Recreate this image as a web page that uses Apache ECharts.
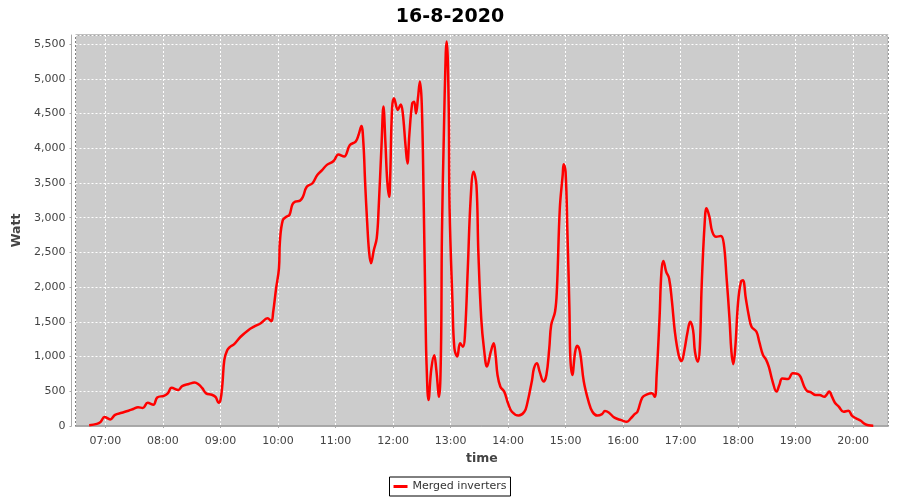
<!DOCTYPE html>
<html>
<head>
<meta charset="utf-8">
<script src="https://cdn.jsdelivr.net/npm/echarts@6/dist/echarts.min.js"></script>
<style>html,body{margin:0;padding:0;background:#fff;}#c{width:900px;height:500px;}</style>
</head>
<body>
<div id="c"></div>
<script>
const chartTitle = '16-8-2020';
const seriesName = 'Merged inverters';
const times = ['06:43','06:51','06:55','06:59','07:05','07:10','07:17','07:24','07:29','07:34','07:39','07:44','07:50','07:54','08:01','08:05','08:09','08:16','08:20','08:27','08:33','08:37','08:41','08:45','08:51','08:55','08:58','09:00','09:02','09:04','09:07','09:10','09:14','09:21','09:29','09:35','09:42','09:49','09:53','09:55','09:58','10:01','10:02','10:05','10:09','10:12','10:15','10:18','10:23','10:26','10:30','10:36','10:41','10:46','10:51','10:58','11:03','11:09','11:15','11:21','11:24','11:27','11:29','11:31','11:33','11:35','11:37','11:40','11:43','11:45','11:48','11:50','11:52','11:54','11:56','11:57','11:59','12:01','12:05','12:08','12:10','12:13','12:15','12:17','12:20','12:22','12:24','12:26','12:28','12:30','12:32','12:34','12:35','12:37','12:40','12:43','12:45','12:48','12:50','12:51','12:53','12:55','12:56','12:58','12:59','13:02','13:04','13:07','13:10','13:13','13:15','13:18','13:21','13:24','13:27','13:29','13:32','13:35','13:38','13:42','13:45','13:47','13:49','13:52','13:56','14:00','14:04','14:11','14:17','14:20','14:25','14:27','14:30','14:33','14:37','14:40','14:43','14:45','14:49','14:51','14:54','14:57','14:58','15:00','15:02','15:04','15:05','15:07','15:10','15:12','15:15','15:19','15:24','15:28','15:33','15:38','15:41','15:45','15:51','15:58','16:04','16:08','16:12','16:15','16:20','16:25','16:30','16:33','16:35','16:38','16:40','16:42','16:45','16:48','16:51','16:54','16:58','17:01','17:04','17:07','17:10','17:13','17:15','17:18','17:20','17:22','17:25','17:27','17:30','17:33','17:37','17:42','17:45','17:48','17:51','17:53','17:55','17:57','18:00','18:03','18:05','18:08','18:11','18:14','18:19','18:22','18:26','18:29','18:32','18:36','18:40','18:43','18:46','18:52','18:57','19:02','19:05','19:09','19:12','19:16','19:21','19:25','19:30','19:32','19:35','19:38','19:41','19:45','19:50','19:55','19:59','20:03','20:08','20:12','20:16','20:21'];
const watts = [10,30,60,130,95,160,190,220,245,270,260,335,305,410,435,470,550,520,575,605,625,600,545,470,450,415,335,375,600,950,1090,1140,1175,1285,1380,1430,1480,1550,1510,1645,1980,2270,2655,2965,3015,3040,3190,3230,3245,3300,3445,3495,3615,3685,3760,3815,3910,3880,4045,4095,4190,4320,4095,3470,2940,2510,2345,2535,2705,3135,4045,4600,4095,3520,3300,3565,4575,4720,4550,4630,4525,4045,3780,4190,4645,4670,4500,4720,4960,4625,3230,1500,880,375,830,1020,830,420,1070,2750,4190,5370,5535,4670,3135,1790,1120,1000,1190,1140,1310,2270,3280,3660,3470,2510,1550,1095,855,1070,1190,1020,735,565,495,325,205,150,205,325,660,830,905,780,640,735,1120,1455,1645,1980,3135,3615,3770,3660,2750,1695,975,735,1070,1155,1070,640,350,205,150,170,215,195,120,85,60,110,170,205,410,455,470,420,735,1550,2220,2375,2220,2125,1790,1360,1020,935,1095,1335,1500,1380,1070,925,1120,2030,2895,3135,3015,2800,2725,2735,2630,2125,1550,1070,890,1120,1790,2080,2100,1840,1600,1430,1360,1215,1020,960,855,640,495,590,685,675,760,750,710,565,505,485,445,445,420,445,495,420,335,280,205,220,145,110,75,30,10,5];
const yTickStep = 500;
const yMax = 5630;

function toTs(s, sec) {
  const p = s.split(':');
  return new Date(2020, 7, 16, +p[0], +p[1], sec || 0).getTime();
}
const data = times.map((t, i) => [toTs(t), watts[i]]);
const xMin = toTs('06:28', 45);
const xMax = toTs('20:36', 40);
const FONT = 'DejaVu Sans';
const pad = n => (n < 10 ? '0' : '') + n;

const chart = echarts.init(document.getElementById('c'), null, {renderer: 'canvas'});
chart.setOption({
  animation: false,
  backgroundColor: '#ffffff',
  title: {
    text: chartTitle, left: 'center', top: 3,
    textStyle: {fontFamily: FONT, fontWeight: 'bold', fontSize: 19, color: '#000'}
  },
  legend: {
    data: [{name: seriesName, icon: 'rect'}],
    left: 'center', top: 477,
    itemWidth: 14, itemHeight: 3, padding: [4, 4, 4, 4],
    borderColor: '#000', borderWidth: 1,
    textStyle: {fontFamily: FONT, fontSize: 11, color: '#333'}
  },
  grid: {
    left: 75.5, right: 11.7, top: 35, bottom: 74,
    show: true, backgroundColor: '#cccccc', borderColor: '#808080', borderWidth: 1
  },
  xAxis: {
    type: 'time', min: xMin, max: xMax,
    minInterval: 3600000, maxInterval: 3600000,
    offset: 4,
    name: 'time', nameLocation: 'middle', nameGap: 22,
    nameTextStyle: {fontFamily: FONT, fontWeight: 'bold', fontSize: 12.5, color: '#444'},
    axisLine: {show: true, lineStyle: {color: '#aaaaaa', width: 1}},
    axisTick: {show: true, length: 2, lineStyle: {color: '#aaaaaa'}},
    axisLabel: {
      fontFamily: FONT, fontSize: 11, color: '#444', margin: 6,
      formatter: v => { const d = new Date(v); return pad(d.getHours()) + ':' + pad(d.getMinutes()); }
    },
    splitLine: {show: true, lineStyle: {color: '#ffffff', type: [2, 2], width: 1}}
  },
  yAxis: {
    type: 'value', min: 0, max: yMax, interval: yTickStep,
    offset: 4,
    name: 'Watt', nameLocation: 'middle', nameGap: 40, nameRotate: 90,
    nameTextStyle: {fontFamily: FONT, fontWeight: 'bold', fontSize: 12.5, color: '#444'},
    axisLine: {show: true, lineStyle: {color: '#aaaaaa', width: 1}},
    axisTick: {show: true, length: 2, lineStyle: {color: '#aaaaaa'}},
    axisLabel: {
      fontFamily: FONT, fontSize: 11, color: '#444', margin: 6, showMaxLabel: false,
      formatter: v => v.toLocaleString('en-US')
    },
    splitLine: {show: true, lineStyle: {color: '#ffffff', type: [2, 2], width: 1}}
  },
  series: [{
    name: seriesName, type: 'line', data: data,
    showSymbol: false, smooth: 0.4,
    lineStyle: {color: '#ff0000', width: 2.5},
    itemStyle: {color: '#ff0000'}
  }]
});
</script>
</body>
</html>
